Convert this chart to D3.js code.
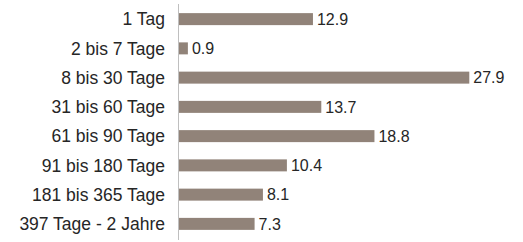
<!DOCTYPE html>
<html lang="de">
<head>
<meta charset="UTF-8">
<style>
    body { margin: 0; background: white; }
    text { font-family: "Liberation Sans", Arial, sans-serif; fill: #262626; }
</style>
</head>
<body>
<svg width="523" height="242" id="chart"></svg>
<script src="https://d3js.org/d3.v7.min.js"></script>
<script>
    // Kategorien und Werte
    const categories = ["1 Tag", "2 bis 7 Tage", "8 bis 30 Tage", "31 bis 60 Tage",
        "61 bis 90 Tage", "91 bis 180 Tage", "181 bis 365 Tage", "397 Tage - 2 Jahre"];
    const values = [12.9, 0.9, 27.9, 13.7, 18.8, 10.4, 8.1, 7.3];

    const svg = d3.select("#chart");
    const x0 = 178.5;

    const x = d3.scaleLinear().domain([0, 27.9]).range([x0, 469.3]);
    const y = d3.scaleBand().domain(categories).range([4.5, 238.5]).paddingInner(0.59).paddingOuter(0.295);

    // Balken
    svg.selectAll("rect")
        .data(values)
        .enter()
        .append("rect")
        .attr("x", x(0))
        .attr("y", (d, i) => y(categories[i]))
        .attr("width", d => x(d) - x(0))
        .attr("height", y.bandwidth())
        .attr("fill", "#918379");

    // Achsenlinie
    svg.append("line")
        .attr("x1", x0).attr("x2", x0)
        .attr("y1", 4).attr("y2", 240)
        .attr("stroke", "#bfbfbf").attr("stroke-width", 1);

    // Kategorienbeschriftung
    svg.selectAll("text.cat")
        .data(categories)
        .enter()
        .append("text")
        .attr("class", "cat")
        .attr("x", 165)
        .attr("y", d => y(d) + y.bandwidth() / 2)
        .attr("dy", "0.36em")
        .attr("text-anchor", "end")
        .style("font-size", "17.5px")
        .text(d => d);

    // Werte
    svg.selectAll("text.val")
        .data(values)
        .enter()
        .append("text")
        .attr("class", "val")
        .attr("x", d => x(d) + 4)
        .attr("y", (d, i) => y(categories[i]) + y.bandwidth() / 2)
        .attr("dy", "0.36em")
        .style("font-size", "16px")
        .text(d => d.toFixed(1));
</script>
</body>
</html>
